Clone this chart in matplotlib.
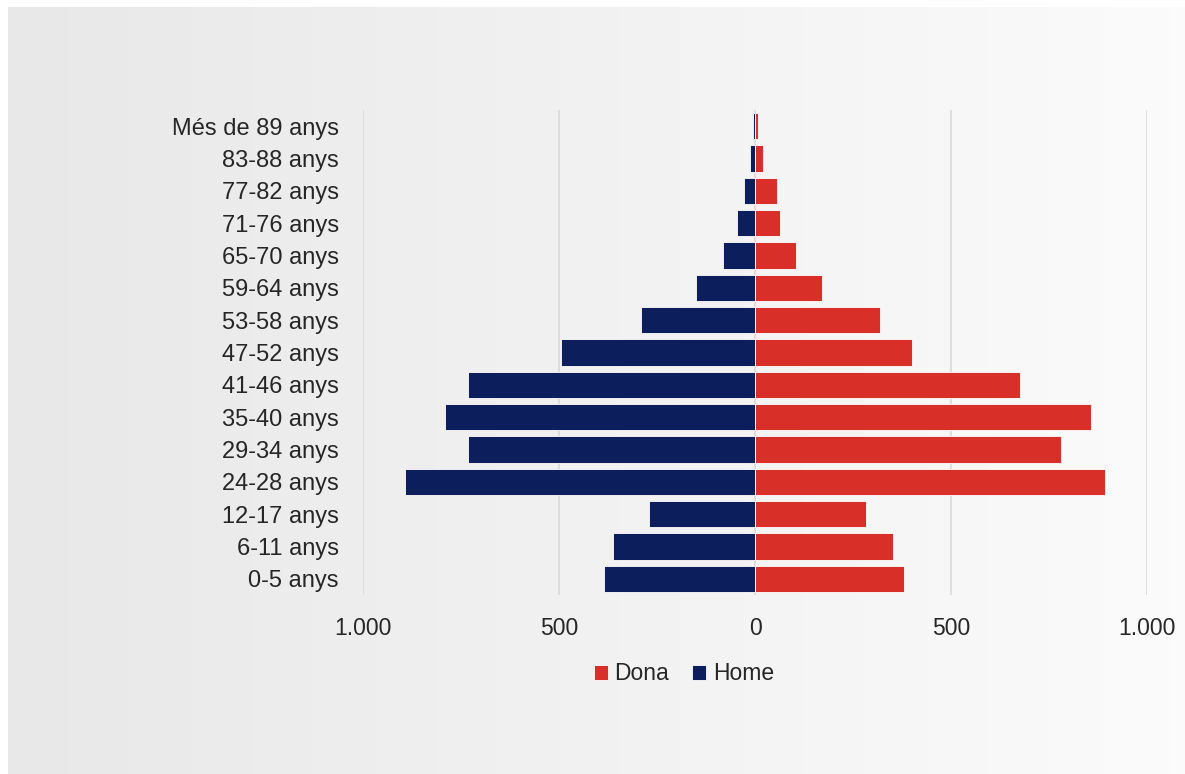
import matplotlib
matplotlib.use('Agg')
from matplotlib import pyplot as plt
import numpy as np

matplotlib.rcParams['font.family'] = ['Liberation Sans', 'DejaVu Sans']

# age groups, top to bottom as shown
grups = ['Més de 89 anys', '83-88 anys', '77-82 anys', '71-76 anys', '65-70 anys',
         '59-64 anys', '53-58 anys', '47-52 anys', '41-46 anys', '35-40 anys',
         '29-34 anys', '24-28 anys', '12-17 anys', '6-11 anys', '0-5 anys']
home = [6, 12, 28, 45, 82, 151, 292, 496, 732, 792, 732, 894, 270, 361, 384]
dona = [8, 20, 57, 64, 105, 170, 320, 400, 677, 856, 780, 894, 283, 352, 379]
ticks = [-1000, -500, 0, 500, 1000]
tick_labels = ['1.000', '500', '0', '500', '1.000']

navy = '#0c1f5c'
red = '#d83029'
txt = '#262626'

fig = plt.figure(figsize=[11.85, 7.74], dpi=100, facecolor='white')

# grey gradient panel behind the chart (white strip only on left and top)
bg = fig.add_axes([8 / 1185, 0, 1 - 8 / 1185, 1 - 7 / 774], zorder=-10)
grad = np.linspace(0.91, 0.985, 256).reshape(1, -1)
bg.imshow(np.dstack([grad, grad, grad]), aspect='auto', extent=[0, 1, 0, 1])
bg.axis('off')

ax = fig.add_axes([363 / 1185, 1 - 595 / 774, 784 / 1185, 485 / 774])
ax.patch.set_alpha(0)
y = np.arange(len(grups))
ax.barh(y, [-v for v in home], height=0.82, color=navy, edgecolor='white', linewidth=0.6,
        label='Home', zorder=3)
ax.barh(y, dona, height=0.82, color=red, edgecolor='white', linewidth=0.6,
        label='Dona', zorder=3)

ax.set_xlim(-1000, 1000)
ax.set_ylim(len(grups) - 0.5, -0.5)
ax.set_xticks(ticks)
ax.set_xticklabels(tick_labels, fontsize=16.5, color=txt)
ax.set_yticks(y)
ax.set_yticklabels(grups, fontsize=17, color=txt)
ax.tick_params(axis='both', length=0)
ax.tick_params(axis='x', pad=16)
ax.tick_params(axis='y', pad=17.5)
ax.grid(axis='x', color='#d9d9d9', linewidth=1.2, zorder=0)
for s in ax.spines.values():
    s.set_visible(False)

handles, labels = ax.get_legend_handles_labels()
fig.legend(handles[::-1], labels[::-1], loc='center', bbox_to_anchor=(684 / 1185, 1 - 674 / 774),
           ncol=2, frameon=False, fontsize=16.5, handlelength=0.6, handleheight=0.6,
           handletextpad=0.3, columnspacing=1.0, labelcolor=txt)

plt.savefig('out.png', dpi=100, facecolor='white')
